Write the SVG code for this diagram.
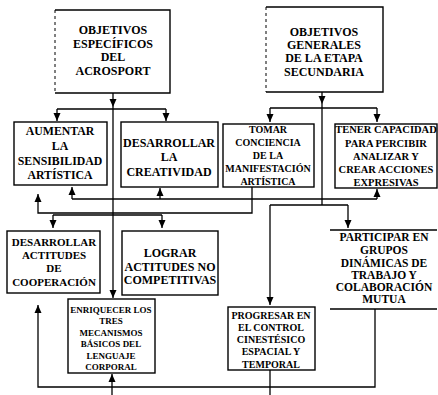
<svg xmlns="http://www.w3.org/2000/svg" width="438" height="395" viewBox="0 0 438 395">
<style>
.bx{fill:none;stroke:#000;stroke-width:1.4}
.dl{fill:none;stroke:#000;stroke-width:1;stroke-dasharray:3 3}
.c{fill:none;stroke:#000;stroke-width:1.3}
.a{fill:none;stroke:#000;stroke-width:1.3;marker-end:url(#ah)}
text{font-family:"Liberation Serif","Times New Roman",serif;font-weight:bold;text-anchor:middle;fill:#000}
</style>
<defs>
<marker id="ah" viewBox="0 0 8 8" refX="8" refY="4" markerWidth="8" markerHeight="8" orient="auto" markerUnits="userSpaceOnUse"><path d="M0,0.5 L8,4 L0,7.5 z" fill="#000"/></marker>
</defs>
<rect width="438" height="395" fill="#fff"/>

<g id="connectors">
<path class="a" d="M113,93 V107"/>
<path class="a" d="M113,107 V298"/>
<path class="c" d="M57,109 H166"/>
<path class="a" d="M57,109 V121"/>
<path class="a" d="M166,109 V121"/>
<path class="a" d="M322,92 V104"/>
<path class="c" d="M322,104 V205"/>
<path class="c" d="M270,108 H377"/>
<path class="a" d="M270,108 V122"/>
<path class="a" d="M377,108 V122"/>
<path class="c" d="M72,199 H377"/>
<path class="a" d="M72,199 V187"/>
<path class="a" d="M160,199 V188"/>
<path class="a" d="M377,199 V189"/>
<path class="a" d="M252,187 V213 H38 V194"/>
<path class="c" d="M53,215 H162"/>
<path class="a" d="M53,215 V228"/>
<path class="a" d="M162,215 V228"/>
<path class="c" d="M270,205 H348"/>
<path class="a" d="M348,205 V228"/>
<path class="a" d="M270,205 V305"/>
<path class="a" d="M375,309 V387 H38 V305"/>
<path class="a" d="M112,395 V374"/>
<path class="c" d="M270,370 V395"/>
</g>

<g id="n1">
<path class="bx" d="M55,10 H170 V93 H55"/>
<path class="dl" d="M55,10 V93"/>
<text font-size="12"><tspan x="113" y="34">OBJETIVOS</tspan><tspan x="113" y="48">ESPECÍFICOS</tspan><tspan x="113" y="61">DEL</tspan><tspan x="113" y="75">ACROSPORT</tspan></text>
</g>
<g id="n2">
<path class="bx" d="M266,7 H383 V92 H266"/>
<path class="dl" d="M266,7 V92"/>
<text font-size="12"><tspan x="324" y="36">OBJETIVOS</tspan><tspan x="324" y="49">GENERALES</tspan><tspan x="324" y="62">DE LA ETAPA</tspan><tspan x="324" y="76">SECUNDARIA</tspan></text>
</g>
<g id="n3">
<rect class="bx" x="14" y="122" width="93" height="63"/>
<text font-size="11.8"><tspan x="60" y="135">AUMENTAR</tspan><tspan x="60" y="150">LA</tspan><tspan x="60" y="165">SENSIBILIDAD</tspan><tspan x="60" y="179">ARTÍSTICA</tspan></text>
</g>
<g id="n4">
<rect class="bx" x="121" y="122" width="97" height="65"/>
<text font-size="12"><tspan x="169" y="147">DESARROLLAR</tspan><tspan x="169" y="161">LA</tspan><tspan x="169" y="176">CREATIVIDAD</tspan></text>
</g>
<g id="n5">
<rect class="bx" x="223" y="124" width="91" height="63"/>
<text font-size="10"><tspan x="268" y="133">TOMAR</tspan><tspan x="268" y="146">CONCIENCIA</tspan><tspan x="268" y="159">DE LA</tspan><tspan x="268" y="172">MANIFESTACIÓN</tspan><tspan x="268" y="185">ARTÍSTICA</tspan></text>
</g>
<g id="n6">
<rect class="bx" x="335" y="124" width="102" height="64"/>
<text font-size="10.5"><tspan x="386" y="133">TENER CAPACIDAD</tspan><tspan x="386" y="147">PARA PERCIBIR</tspan><tspan x="386" y="160">ANALIZAR Y</tspan><tspan x="386" y="173">CREAR ACCIONES</tspan><tspan x="386" y="186">EXPRESIVAS</tspan></text>
</g>
<g id="n7">
<rect class="bx" x="7" y="231" width="93" height="62"/>
<text font-size="11"><tspan x="54" y="246">DESARROLLAR</tspan><tspan x="54" y="259">ACTITUDES</tspan><tspan x="54" y="272">DE</tspan><tspan x="54" y="286">COOPERACIÓN</tspan></text>
</g>
<g id="n8">
<rect class="bx" x="122" y="231" width="96" height="64"/>
<text font-size="12"><tspan x="170" y="257">LOGRAR</tspan><tspan x="170" y="271">ACTITUDES NO</tspan><tspan x="170" y="284">COMPETITIVAS</tspan></text>
</g>
<g id="n9">
<path class="bx" d="M330,230 H437 M330,309 H437"/>
<text font-size="11.5"><tspan x="384" y="241">PARTICIPAR EN</tspan><tspan x="384" y="254">GRUPOS</tspan><tspan x="384" y="267">DINÁMICAS DE</tspan><tspan x="384" y="279">TRABAJO Y</tspan><tspan x="384" y="291">COLABORACIÓN</tspan><tspan x="384" y="303">MUTUA</tspan></text>
</g>
<g id="n10">
<rect class="bx" x="68" y="299" width="87" height="74"/>
<text font-size="9"><tspan x="111" y="313">ENRIQUECER LOS</tspan><tspan x="111" y="324">TRES</tspan><tspan x="111" y="336">MECANISMOS</tspan><tspan x="111" y="347">BÁSICOS DEL</tspan><tspan x="111" y="359">LENGUAJE</tspan><tspan x="111" y="370">CORPORAL</tspan></text>
</g>
<g id="n11">
<rect class="bx" x="228" y="307" width="87" height="63"/>
<text font-size="10"><tspan x="271" y="319">PROGRESAR EN</tspan><tspan x="271" y="331">EL CONTROL</tspan><tspan x="271" y="343">CINESTÉSICO</tspan><tspan x="271" y="355">ESPACIAL Y</tspan><tspan x="271" y="368">TEMPORAL</tspan></text>
</g>
</svg>
